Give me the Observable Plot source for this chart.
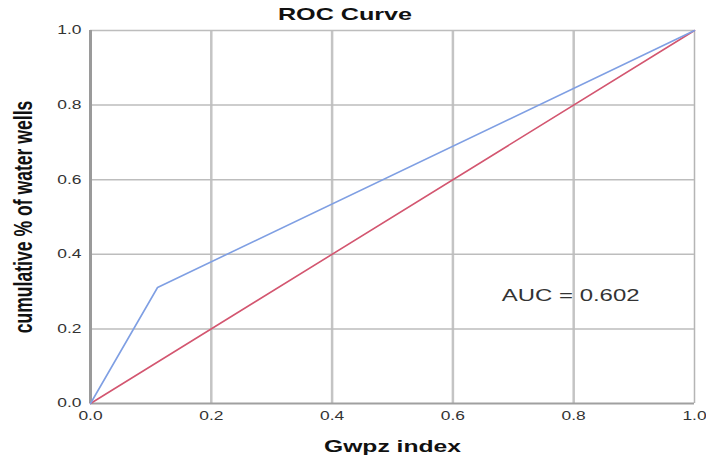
<!DOCTYPE html>
<html>
<head>
<meta charset="utf-8">
<script src="https://cdn.jsdelivr.net/npm/d3@7"></script>
<script src="https://cdn.jsdelivr.net/npm/@observablehq/plot@0.6"></script>
<style>
  html, body { margin: 0; padding: 0; background: #fff; }
  #title { width: 706px; height: 24px; position: relative; }
  #title span { position: absolute; left: 345px; top: 6px; transform: translateX(-50%) scaleX(1.48); transform-origin: center;
    font: bold 17px "Liberation Sans", Arial, sans-serif; line-height: 17px; white-space: nowrap; color: #111; }
</style>
</head>
<body>
<div id="title"><span>ROC Curve</span></div>
<div id="chart"></div>
<script>
// ROC curve points (1 - specificity, sensitivity)
const rocX = [0, 0.111, 1];
const rocY = [0, 0.311, 1];
// reference diagonal
const refX = [0, 1];
const refY = [0, 1];
const tickValues = [0, 0.2, 0.4, 0.6, 0.8, 1.0];
const gridValues = [0.2, 0.4, 0.6, 0.8, 1.0];
const aucLabel = ["AUC = 0.602"];
const aucPos = {x: [0.795], y: [0.29]};
const xLabel = "Gwpz index";
const yLabel = "cumulative % of water wells";

const roc = rocX.map((x, i) => ({x, y: rocY[i]}));
const ref = refX.map((x, i) => ({x, y: refY[i]}));

const chart = Plot.plot({
  width: 706,
  height: 432,
  marginLeft: 90,
  marginRight: 12,
  marginTop: 6,
  marginBottom: 53,
  style: {fontFamily: '"Liberation Sans", Arial, sans-serif', fontSize: "12px", color: "#333", background: "#fff"},
  x: {domain: [0, 1], ticks: tickValues, tickFormat: d3.format(".1f"), tickSize: 0, tickPadding: 8,
      label: xLabel, labelAnchor: "center", labelOffset: 48, labelArrow: "none"},
  y: {domain: [0, 1], ticks: tickValues, tickFormat: d3.format(".1f"), tickSize: 0, tickPadding: 9,
      label: yLabel, labelAnchor: "center", labelOffset: 77, labelArrow: "none"},
  marks: [
    Plot.ruleX(gridValues.slice(0, 4), {stroke: "#c4c4c4", strokeWidth: 2.5}),
    Plot.ruleX([1], {stroke: "#b5b5b5", strokeWidth: 1.5}),
    Plot.ruleY(gridValues, {stroke: "#bdbdbd", strokeWidth: 1.5}),
    Plot.ruleY([0], {stroke: "#a0a0a0", strokeWidth: 2}),
    Plot.ruleX([0], {stroke: "#9a9a9a", strokeWidth: 3}),
    Plot.line(ref, {x: "x", y: "y", stroke: "#d35670", strokeWidth: 1.6}),
    Plot.line(roc, {x: "x", y: "y", stroke: "#7f9fe3", strokeWidth: 1.6}),
    Plot.text(aucLabel, {x: aucPos.x, y: aucPos.y, text: d => d, fontSize: 16.5, fill: "#333", textAnchor: "middle", lineAnchor: "middle"})
  ]
});
document.getElementById("chart").appendChild(chart);

// Emulate horizontally stretched rendering of the original
const svg = d3.select(chart.tagName.toLowerCase() === "svg" ? chart : chart.querySelector("svg"));
svg.selectAll("text").each(function () {
  const t = d3.select(this);
  const txt = this.textContent;
  if (txt.includes("cumulative")) {
    this.textContent = yLabel;
    t.style("font-size", "17.6px").style("font-weight", "bold").style("fill", "#111");
    const tr = t.attr("transform") || "";
    t.attr("transform", tr + " scale(1,1.45)");
    return;
  }
  if (txt.includes("Gwpz")) {
    this.textContent = xLabel;
    t.style("font-size", "17px").style("font-weight", "bold").style("fill", "#111");
  }
  const len = this.getComputedTextLength();
  if (len > 0) {
    t.attr("textLength", len * 1.45).attr("lengthAdjust", "spacingAndGlyphs");
  }
});
</script>
</body>
</html>
